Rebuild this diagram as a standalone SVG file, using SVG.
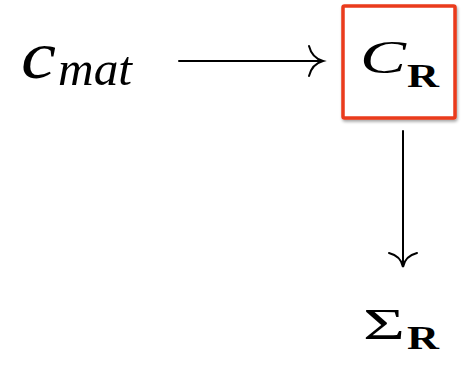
<svg xmlns="http://www.w3.org/2000/svg" width="462" height="370" viewBox="0 0 462 370">
<style>
.it{font-family:"Liberation Serif","DejaVu Serif",serif;font-style:italic;fill:#000}
.rm{font-family:"Liberation Serif","DejaVu Serif",serif;fill:#000}
.bf{font-family:"Liberation Serif","DejaVu Serif",serif;font-weight:bold;fill:#000}
.conn{stroke:#000;stroke-width:2;fill:none;stroke-linecap:round}
</style>
<defs>
<filter id="sh" x="-20%" y="-20%" width="140%" height="140%">
<feDropShadow dx="1" dy="2" stdDeviation="1.5" flood-color="#000" flood-opacity="0.35"/>
</filter>
</defs>
<rect width="462" height="370" fill="#fff"/>
<g id="cmat">
<text class="it" x="21" y="78" font-size="68" textLength="35" lengthAdjust="spacingAndGlyphs">c</text>
<text class="it" x="58" y="85" font-size="48" textLength="74" lengthAdjust="spacingAndGlyphs">mat</text>
</g>
<g id="CR">
<rect x="343" y="6" width="112" height="112" fill="#fff" stroke="#ea3a1e" stroke-width="3.5" rx="1.5" filter="url(#sh)"/>
<text class="it" x="360" y="73" font-size="46" textLength="46" lengthAdjust="spacingAndGlyphs">C</text>
<text class="bf" x="407" y="87" font-size="33" textLength="32" lengthAdjust="spacingAndGlyphs">R</text>
</g>
<g id="SigmaR">
<text class="rm" x="363" y="339" font-size="44" textLength="42" lengthAdjust="spacingAndGlyphs">Σ</text>
<text class="bf" x="407" y="349" font-size="33" textLength="32" lengthAdjust="spacingAndGlyphs">R</text>
</g>
<g id="connectors">
<path class="conn" d="M179,61 H322"/>
<path class="conn" d="M309,46 Q312,58 323,61 Q312,64 309,76"/>
<path class="conn" d="M403,131 V266"/>
<path class="conn" d="M389,253 Q401,256 403,267 Q405,256 417,253"/>
</g>
</svg>
